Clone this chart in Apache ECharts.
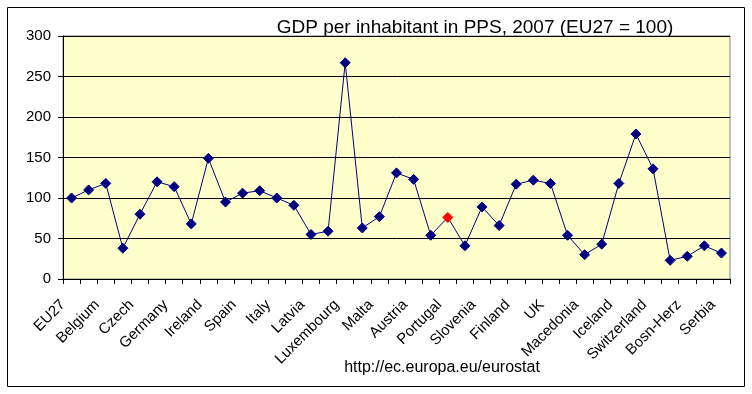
<!DOCTYPE html>
<html>
<head>
<meta charset="utf-8">
<script src="https://cdn.jsdelivr.net/npm/echarts@6/dist/echarts.min.js"></script>
<style>html,body{margin:0;padding:0;background:#fff}#c{width:752px;height:394px}</style>
</head>
<body>
<div id="c"></div>
<script>
const categories = ['EU27','EA13','Belgium','Bulgaria','Czech','Denmark','Germany','Estonia','Ireland','Greece',
  'Spain','France','Italy','Cyprus','Latvia','Lithuania','Luxembourg','Hungary','Malta','Netherlands',
  'Austria','Poland','Portugal','Romania','Slovenia','Slovakia','Finland','Sweden','UK','Croatia',
  'Macedonia','Turkey','Iceland','Norway','Switzerland','Albania','Bosn-Herz','Montenegro','Serbia'];
const values = [100,110,118,38,80,120,114,68,149,95,
  106,109,100,91,55,59,267,63,77,131,
  123,54,76,41,89,66,117,122,118,54,
  30,43,118,179,136,23,28,41,32];
const highlighted = 'Portugal';
const yTicks = [0,50,100,150,200,250,300];
const titleText = 'GDP per inhabitant in PPS, 2007 (EU27 = 100)';
const sourceText = 'http://ec.europa.eu/eurostat';

const chart = echarts.init(document.getElementById('c'), null, {renderer:'canvas'});
const font = 'Arial, "Liberation Sans", sans-serif';
chart.setOption({
  animation:false,
  backgroundColor:'#ffffff',
  title:{text:titleText,left:470,top:13,textAlign:'center',
    textStyle:{fontFamily:font,fontSize:19,fontWeight:'normal',color:'#000'}},
  graphic:[
    {type:'rect',shape:{x:7.5,y:7.5,width:737,height:379},style:{fill:'none',stroke:'#000',lineWidth:1},silent:true},
    {type:'text',x:442,y:368,style:{text:sourceText,font:'16px '+font,fill:'#000',textAlign:'center',textVerticalAlign:'middle'}}
  ],
  grid:{left:63,right:22,top:36,bottom:115,show:true,backgroundColor:'#FFFFCC',borderColor:'#808080',borderWidth:1},
  xAxis:{type:'category',data:categories,boundaryGap:true,
    axisLine:{lineStyle:{color:'#000',width:1}},
    axisTick:{show:true,interval:0,length:5,lineStyle:{color:'#000'}},
    axisLabel:{interval:1,rotate:45,margin:15,padding:[0,12,0,0],fontFamily:font,fontSize:15,color:'#000'},
    splitLine:{show:false}},
  yAxis:{type:'value',min:yTicks[0],max:yTicks[yTicks.length-1],interval:yTicks[1]-yTicks[0],
    axisLine:{show:true,lineStyle:{color:'#000',width:1}},
    axisTick:{show:true,length:5,lineStyle:{color:'#000'}},
    axisLabel:{margin:12,fontFamily:font,fontSize:15,color:'#000'},
    splitLine:{show:true,lineStyle:{color:'#000',width:1}}},
  series:[{type:'line',
    data:values.map((v,i)=>categories[i]===highlighted?{value:v,itemStyle:{color:'#FF0000',borderColor:'#FF0000'}}:v),
    symbol:'diamond',symbolSize:10,showAllSymbol:true,
    lineStyle:{color:'#000080',width:1},
    itemStyle:{color:'#000080',borderColor:'#000080'},
    emphasis:{disabled:true}}]
});
</script>
</body>
</html>
